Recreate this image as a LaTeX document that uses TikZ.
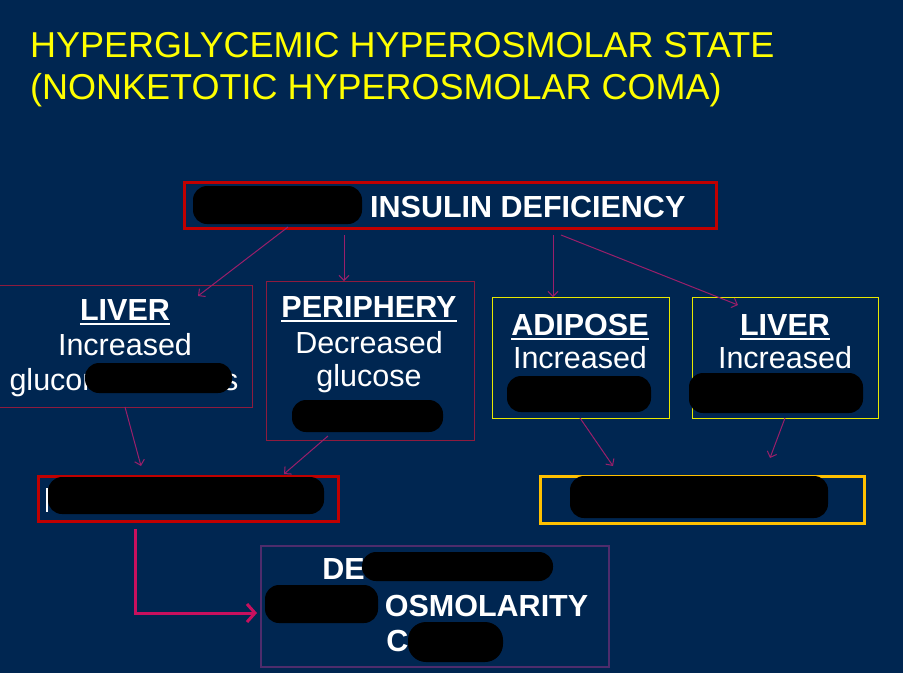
\documentclass[tikz,border=0pt]{standalone}
\usepackage{fontspec}
\setmainfont{Liberation Sans}
\usetikzlibrary{arrows.meta}
\definecolor{bg}{HTML}{002651}
\definecolor{titley}{HTML}{FFFF00}
\definecolor{redbox}{HTML}{C00000}
\definecolor{thinred}{HTML}{8E1B3E}
\definecolor{ybox}{HTML}{E8E800}
\definecolor{goldbox}{HTML}{FFC000}
\definecolor{purplebox}{HTML}{4E2C6C}
\definecolor{thinarrow}{HTML}{9A1F6A}
\definecolor{thickarrow}{HTML}{C8105E}
\newcommand\bxfont{\fontsize{30.5}{36}\selectfont}
\newcommand\ttlfont{\fontsize{36}{42}\selectfont}
\tikzset{
  boxthick/.style={draw=redbox, line width=3.2pt, inner sep=0pt, anchor=north west},
  boxthin/.style={draw=thinred, line width=1pt, inner sep=0pt, anchor=north west},
  boxyel/.style={draw=ybox, line width=1pt, inner sep=0pt, anchor=north west},
  boxgold/.style={draw=goldbox, line width=3pt, inner sep=0pt, anchor=north west},
  boxpur/.style={draw=purplebox, line width=2pt, inner sep=0pt, anchor=north west},
  txt/.style={text=white, font=\bxfont, inner sep=0pt, anchor=base},
  ttl/.style={text=titley, font=\ttlfont, inner sep=0pt, anchor=base west},
  blob/.style={fill=black, rounded corners=14pt},
  thinarr/.style={draw=thinarrow, line width=1pt, -{Straight Barb[length=5pt,width=10pt]}},
  thickarr/.style={draw=thickarrow, line width=3pt, -{Straight Barb[length=8pt,width=18pt]}}
}
\begin{document}
\begin{tikzpicture}[x=1pt,y=-1pt]
\useasboundingbox (0,0) rectangle (903,673);
\fill[bg] (0,0) rectangle (903,673);

% title
\node[ttl] (t1) at (30,57) {HYPERGLYCEMIC HYPEROSMOLAR STATE};
\node[ttl] (t2) at (30,99) {(NONKETOTIC HYPEROSMOLAR COMA)};

% boxes
\node[boxthick, minimum width=532pt, minimum height=46pt] (top) at (182.5,181) {};
\node[boxthin, minimum width=253pt, minimum height=122pt] (liverL) at (-1,285) {};
\node[boxthin, minimum width=208pt, minimum height=159pt] (peri) at (266,281) {};
\node[boxyel, minimum width=177pt, minimum height=121pt] (adip) at (492,297) {};
\node[boxyel, minimum width=186pt, minimum height=121pt] (liverR) at (692,297) {};
\node[boxthick, minimum width=300pt, minimum height=45pt] (lowL) at (36.5,475) {};
\node[boxgold, minimum width=324pt, minimum height=47pt] (lowR) at (538.5,474.5) {};
\node[boxpur, minimum width=348pt, minimum height=121pt] (bot) at (260,545) {};

% texts
\node[txt, anchor=base west] (toptxt) at (370,217) {\textbf{INSULIN DEFICIENCY}};

\node[txt] (lvL1) at (125,320) {\textbf{LIVER}};
\node[txt] (lvL2) at (125,355) {Increased};
\node[txt] (lvL3) at (124,390) {glucon\phantom{eogenesi}s};

\node[txt] (pe1) at (369,317) {\textbf{PERIPHERY}};
\node[txt] (pe2) at (369,353) {Decreased};
\node[txt] (pe3) at (369,386) {glucose};

\node[txt] (ad1) at (580,335) {\textbf{ADIPOSE}};
\node[txt] (ad2) at (580,368) {Increased};

\node[txt] (lvR1) at (785,335) {\textbf{LIVER}};
\node[txt] (lvR2) at (785,368) {Increased};

\node[txt] (bo1) at (433,579) {\textbf{DE\phantom{HYDRATION}}};
\node[txt] (bo2) at (434,616) {\textbf{\phantom{HYPER}OSMOLARITY}};
\node[txt] (bo3) at (433,651) {\textbf{C\phantom{OMA}}};

% underlines
\foreach \n in {lvL1,pe1,ad1,lvR1}{
  \draw[white, line width=2pt] ([yshift=-4pt]\n.base west) -- ([yshift=-4pt]\n.base east);
}

% arrows
\coordinate (a1s) at (288,227); \coordinate (a1e) at (198,296);
\coordinate (a2s) at (344,235); \coordinate (a2e) at (344,281);
\coordinate (a3s) at (553,235); \coordinate (a3e) at (553,297);
\coordinate (a4s) at (561,235); \coordinate (a4e) at (738,305);
\coordinate (a5s) at (125,407); \coordinate (a5e) at (141,466);
\coordinate (a6s) at (328,436); \coordinate (a6e) at (284,474);
\coordinate (a7s) at (580,418); \coordinate (a7e) at (613,466);
\coordinate (a8s) at (785,418); \coordinate (a8e) at (770,458);
\coordinate (a9s) at (135,529); \coordinate (a9e) at (257,613);
\draw[thinarr] (a1s) -- (a1e);
\draw[thinarr] (a2s) -- (a2e);
\draw[thinarr] (a3s) -- (a3e);
\draw[thinarr] (a4s) -- (a4e);
\draw[thinarr] (a5s) -- (a5e);
\draw[thinarr] (a6s) -- (a6e);
\draw[thinarr] (a7s) -- (a7e);
\draw[thinarr] (a8s) -- (a8e);
\draw[thickarr] (a9s) |- (a9e);

% redaction marks
\fill[blob] (193,186) rectangle (362,224);
\fill[blob] (85,363) rectangle (232,393);
\fill[blob] (292,400) rectangle (443,432);
\fill[blob] (507,376) rectangle (651,412);
\fill[blob] (689,373) rectangle (863,413);
\fill[white] (46,488) rectangle (48,512);
\fill[blob] (48,477) rectangle (324,514);
\fill[blob] (570,476) rectangle (828,518);
\fill[blob] (362,552) rectangle (553,581);
\fill[blob] (265,585) rectangle (378,623);
\fill[blob, rounded corners=18pt] (408,622) rectangle (503,662);
\end{tikzpicture}
\end{document}
